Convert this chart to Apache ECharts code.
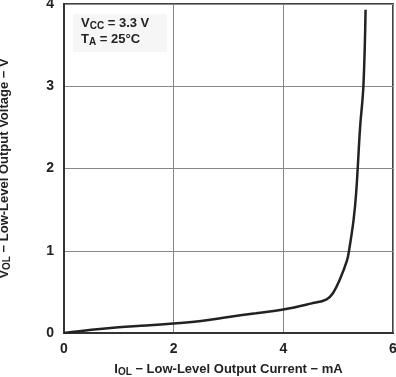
<!DOCTYPE html>
<html>
<head>
<meta charset="utf-8">
<script src="https://cdn.jsdelivr.net/npm/echarts@6/dist/echarts.min.js"></script>
<style>
  html, body { margin: 0; padding: 0; background: #fff; }
  #chart { width: 396px; height: 377px; }
</style>
</head>
<body>
<div id="chart"></div>
<script>
// I_OL (mA) vs V_OL (V)
const currentMA = [0, 0.5, 1, 1.5, 2, 2.5, 3, 3.5, 4, 4.5, 4.79, 4.91, 5.03, 5.16, 5.2, 5.28, 5.33, 5.4, 5.46, 5.5];
const voltageV = [0, 0.04, 0.07, 0.09, 0.115, 0.146, 0.195, 0.24, 0.285, 0.357, 0.41, 0.49, 0.65, 0.88, 1.01, 1.37, 1.72, 2.5, 3.0, 3.93];
const xTicks = [0, 2, 4, 6];
const yTicks = [0, 1, 2, 3, 4];

const FONT = '"Liberation Sans", Arial, sans-serif';
const TEXT = '#222';

const nameRich = {
  n: { fontFamily: FONT, fontWeight: 'bold', fontSize: 13, color: TEXT },
  s: { fontFamily: FONT, fontWeight: 'bold', fontSize: 10, color: TEXT, verticalAlign: 'bottom', padding: [6, 0, 0, 0] }
};

const chart = echarts.init(document.getElementById('chart'));

const option = {
  animation: false,
  textStyle: { fontFamily: FONT },
  grid: {
    left: 64,
    right: 3,
    top: 4,
    bottom: 44,
    containLabel: false,
    outerBoundsMode: 'none',
    show: true,
    borderColor: '#444',
    borderWidth: 2
  },
  xAxis: {
    type: 'value',
    min: xTicks[0],
    max: xTicks[xTicks.length - 1],
    interval: 2,
    name: '{n|I}{s|OL}{n| − Low-Level Output Current − mA}',
    nameLocation: 'middle',
    nameGap: 28,
    nameTextStyle: { fontFamily: FONT, fontWeight: 'bold', fontSize: 13, color: TEXT, rich: nameRich },
    axisLine: { show: true, lineStyle: { color: '#333', width: 2 } },
    axisTick: { show: false },
    axisLabel: { fontFamily: FONT, fontWeight: 'bold', fontSize: 14, color: TEXT, margin: 9 },
    splitLine: { show: true, lineStyle: { color: '#888', width: 1 } }
  },
  yAxis: {
    type: 'value',
    min: yTicks[0],
    max: yTicks[yTicks.length - 1],
    interval: 1,
    name: '{n|V}{s|OL}{n| − Low-Level Output Voltage − V}',
    nameLocation: 'middle',
    nameGap: 52,
    nameRotate: 90,
    nameTextStyle: { fontFamily: FONT, fontWeight: 'bold', fontSize: 13, color: TEXT, rich: nameRich },
    axisLine: { show: true, lineStyle: { color: '#333', width: 2 } },
    axisTick: { show: false },
    axisLabel: { fontFamily: FONT, fontWeight: 'bold', fontSize: 14, color: TEXT, margin: 10 },
    splitLine: { show: true, lineStyle: { color: '#888', width: 1 } }
  },
  graphic: [
    {
      type: 'rect',
      left: 73,
      top: 14,
      shape: { width: 94, height: 38 },
      style: { fill: '#f6f6f6' },
      z: 5
    },
    {
      type: 'text',
      left: 81,
      top: 16,
      z: 6,
      style: {
        text: '{n|V}{s|CC}{n| = 3.3 V}\n{n|T}{s|A}{n| = 25°C}',
        rich: {
          n: { fontFamily: FONT, fontWeight: 'bold', fontSize: 13, fill: TEXT, lineHeight: 16 },
          s: { fontFamily: FONT, fontWeight: 'bold', fontSize: 10, fill: TEXT, lineHeight: 16, padding: [5, 0, 0, 0] }
        }
      }
    }
  ],
  series: [
    {
      type: 'line',
      data: currentMA.map((x, i) => [x, voltageV[i]]),
      showSymbol: false,
      smooth: 0.4,
      lineStyle: { color: '#222', width: 2.5 },
      z: 10
    }
  ]
};

chart.setOption(option);
</script>
</body>
</html>
